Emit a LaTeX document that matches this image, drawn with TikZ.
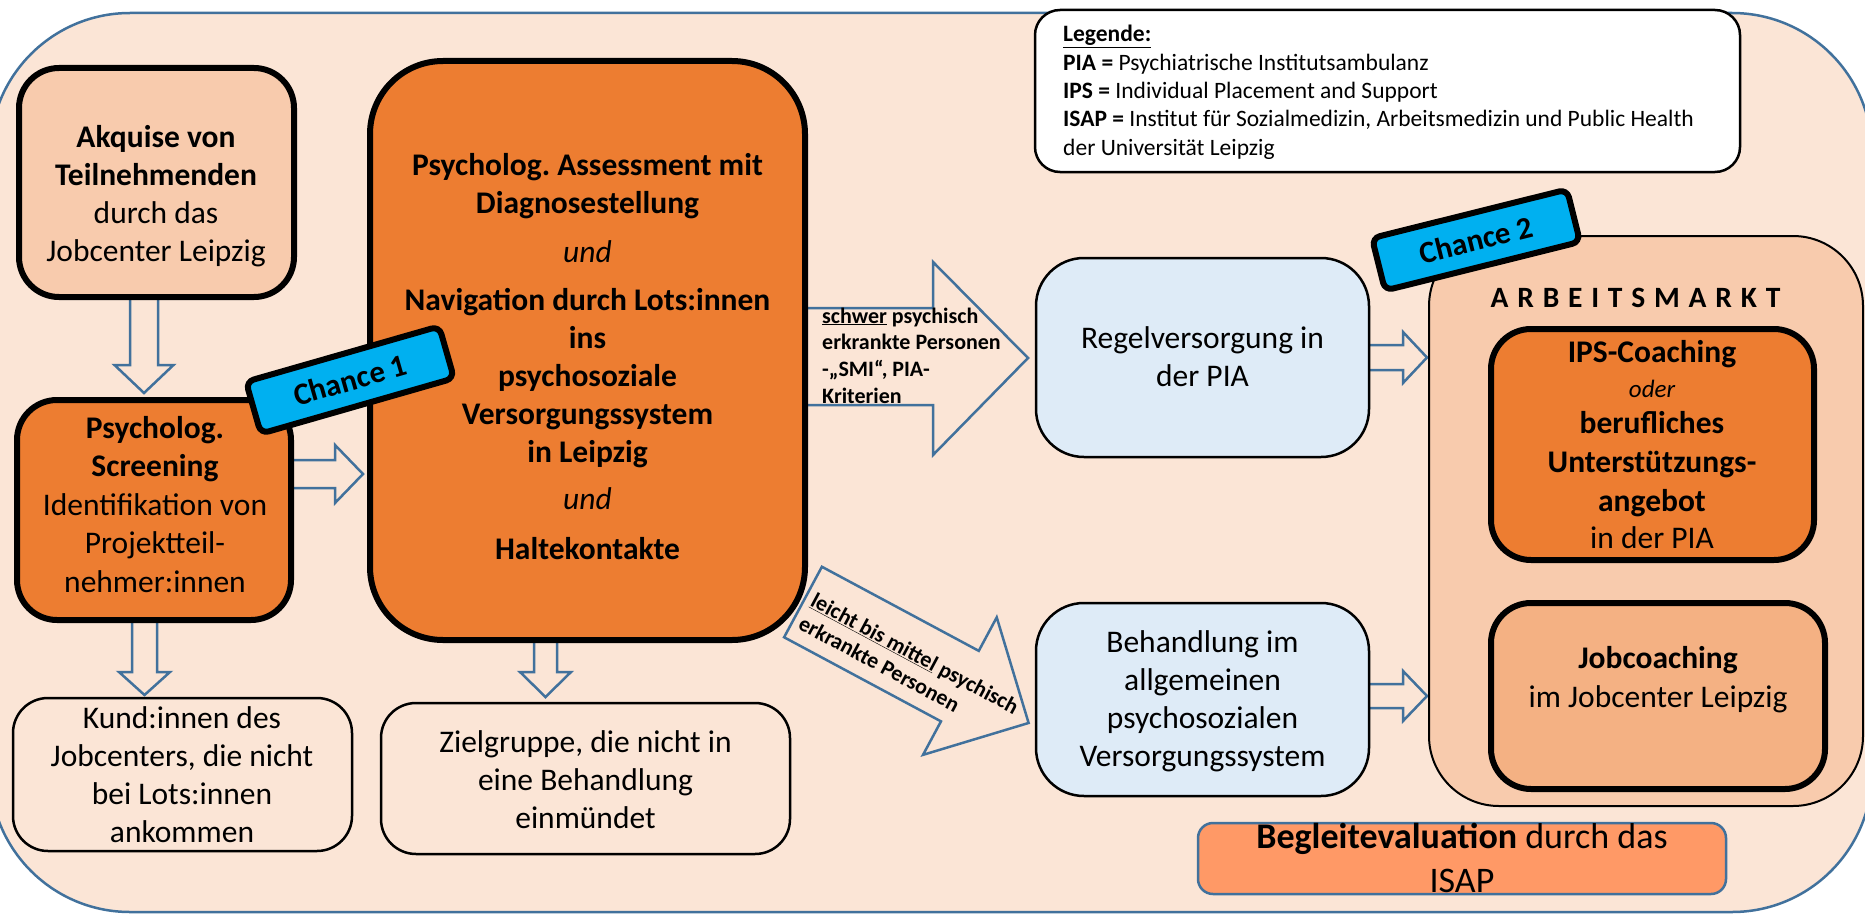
\documentclass[tikz,border=0pt]{standalone}
\usepackage{fontspec}
\setmainfont{Carlito}
\frenchspacing
\definecolor{bgc}{HTML}{FBE5D6}
\definecolor{arrc}{HTML}{41719C}
\definecolor{peach}{HTML}{F8CBAD}
\definecolor{orng}{HTML}{ED7D31}
\definecolor{lblue}{HTML}{DEEBF7}
\definecolor{cyanc}{HTML}{00B0F0}
\definecolor{jobc}{HTML}{F4B183}
\definecolor{begc}{HTML}{FF9966}
\newcommand\ctab[1]{\begin{tabular}[t]{@{}c@{}}#1\end{tabular}}
\newcommand\ltab[1]{\begin{tabular}[t]{@{}l@{}}#1\end{tabular}}
\newcommand\fsz[2]{\fontsize{#1}{#2}\selectfont}
% cx, y0, ybase, ytip, shaft half width, head half width
\newcommand\vblockarrow[6]{\filldraw[barrow] ({#1-#5},#2) -- ({#1-#5},#3) -- ({#1-#6},#3) -- (#1,#4) -- ({#1+#6},#3) -- ({#1+#5},#3) -- ({#1+#5},#2);}
% cy, x0, xbase, xtip, shaft half width, head half width
\newcommand\hblockarrow[6]{\filldraw[barrow] (#2,{#1-#5}) -- (#3,{#1-#5}) -- (#3,{#1-#6}) -- (#4,#1) -- (#3,{#1+#6}) -- (#3,{#1+#5}) -- (#2,{#1+#5});}
\begin{document}
\begin{tikzpicture}[x=1pt,y=-1pt,
  thickbox/.style={draw=black, line width=6pt, rectangle, inner sep=0pt},
  thinbox/.style={draw=black, line width=2.5pt, rectangle, inner sep=0pt},
  barrow/.style={draw=arrc, fill=bgc, line width=2.5pt, line join=miter},
  txt/.style={inner sep=0pt, anchor=base},
  tag/.style={draw=black, line width=6pt, fill=cyanc, rounded corners=8pt,
    minimum width=201pt, minimum height=54pt, inner sep=0pt,
    font=\fsz{31}{38}\bfseries},
  big/.style={font=\fsz{31.5}{38.3}}
]
\useasboundingbox (0,0) rectangle (1865,915);
% background frame
\draw[draw=arrc, fill=bgc, line width=2.5pt, rounded corners=140pt] (-10,13) rectangle (1872,912);

% block arrows
\vblockarrow{144}{285}{365}{393}{14}{29.5}
\vblockarrow{144.5}{610}{672}{695}{12.5}{25.5}
\vblockarrow{545.5}{630}{672}{697}{11.5}{25.5}
\hblockarrow{474}{285}{335}{363}{14}{29}
\hblockarrow{357.5}{1360}{1403}{1427}{12.5}{25.5}
\hblockarrow{696}{1360}{1403}{1427}{12}{25}
% big arrow: schwer
\filldraw[barrow] (790,308) -- (933,308) -- (933,262) -- (1028,358) -- (933,455) -- (933,405) -- (790,405);
\node[txt, anchor=base west, font=\fsz{22}{26.7}\bfseries] (schwerT) at (822,323)
  {\ltab{\underline{schwer} psychisch\\erkrankte Personen\\-„SMI“, PIA-\\Kriterien}};
% big arrow: leicht
\begin{scope}[shift={(803,602)}, rotate=-28.2]
  \filldraw[barrow] (0,-40) -- (178,-40) -- (178,-78) -- (256,0) -- (178,78) -- (178,40) -- (0,40) -- cycle;
  \node[txt, anchor=base west, transform shape, font=\fsz{22}{26}\bfseries] (leichtT) at (7,0)
    {\ltab{\underline{leicht bis mittel} psychisch\\erkrankte Personen}};
\end{scope}

% left column
\node[thickbox, fill=peach, rounded corners=40pt, minimum width=275pt, minimum height=229pt] (akq) at (156.5,182.5) {};
\node[txt, big] (akqT) at (156,147) {\ctab{\textbf{Akquise von}\\\textbf{Teilnehmenden}\\durch das\\Jobcenter Leipzig}};

\node[thickbox, fill=orng, rounded corners=40pt, minimum width=274pt, minimum height=220pt] (scr) at (154,510) {};
\node[txt, font=\fsz{31.5}{38.5}] (scrT) at (155,438) {\ctab{\textbf{Psycholog.}\\\textbf{Screening}\\Identifikation von\\Projektteil-\\nehmer:innen}};

\node[thinbox, fill=bgc, rounded corners=35pt, minimum width=339pt, minimum height=153pt] (kund) at (182.5,774.5) {};
\node[txt, big] (kundT) at (182,728) {\ctab{Kund:innen des\\Jobcenters, die nicht\\bei Lots:innen\\ankommen}};

% assessment
\node[thickbox, fill=orng, rounded corners=73pt, minimum width=435pt, minimum height=579pt] (ass) at (587.5,350.5) {};
\node[txt, font=\fsz{31.5}{38}] (assT) at (587.5,175) {\ctab{\textbf{Psycholog. Assessment mit}\\\textbf{Diagnosestellung}\\[11pt]\textit{und}\\[10pt]\textbf{Navigation durch Lots:innen}\\\textbf{ins}\\\textbf{psychosoziale}\\\textbf{Versorgungssystem}\\\textbf{in Leipzig}\\[9pt]\textit{und}\\[12pt]\textbf{Haltekontakte}}};

\node[thinbox, fill=bgc, rounded corners=35pt, minimum width=409pt, minimum height=151pt] (ziel) at (585.5,778.5) {};
\node[txt, big] (zielT) at (585.5,752) {\ctab{Zielgruppe, die nicht in\\eine Behandlung\\einmündet}};

% middle column
\node[thinbox, fill=lblue, rounded corners=48pt, minimum width=333pt, minimum height=199pt] (regel) at (1202.5,357.5) {};
\node[txt, big] (regelT) at (1202.5,348) {\ctab{Regelversorgung in\\der PIA}};

\node[thinbox, fill=lblue, rounded corners=48pt, minimum width=333pt, minimum height=193pt] (beh) at (1202.5,699.5) {};
\node[txt, big] (behT) at (1202.5,652) {\ctab{Behandlung im\\allgemeinen\\psychosozialen\\Versorgungssystem}};

% legend
\node[thinbox, fill=white, rounded corners=25pt, minimum width=705pt, minimum height=162pt] (leg) at (1387.5,91) {};
\node[txt, anchor=base west, font=\fsz{23.5}{28.3}] (legT) at (1063,42) {\ltab{\textbf{\underline{Legende:}}\\\textbf{PIA =} Psychiatrische Institutsambulanz\\\textbf{IPS =} Individual Placement and Support\\\textbf{ISAP =} Institut für Sozialmedizin, Arbeitsmedizin und Public Health\\der Universität Leipzig}};

% Arbeitsmarkt
\node[thinbox, line width=2pt, fill=peach, rounded corners=70pt, minimum width=434pt, minimum height=570pt] (arb) at (1646,521) {};
\node[txt, font=\fsz{29.5}{36}\bfseries] (arbT) at (1635.5,307) {A\kern8.8pt R\kern8.8pt B\kern8.8pt E\kern8.8pt I\kern8.8pt T\kern8.8pt S\kern8.8pt M\kern8.8pt A\kern8.8pt R\kern8.8pt K\kern8.8pt T};

\node[thickbox, fill=orng, rounded corners=40pt, minimum width=323pt, minimum height=231pt] (ips) at (1652.5,444.5) {};
\node[txt, big] (ipsT) at (1652,362) {\ctab{\textbf{IPS-Coaching}\\[-3pt]{\fsz{25}{30}\itshape oder}\\[-2pt]\textbf{berufliches}\\[1pt]\textbf{Unterstützungs-}\\\textbf{angebot}\\[-1pt]in der PIA}};

\node[thickbox, fill=jobc, rounded corners=40pt, minimum width=334pt, minimum height=186pt] (job) at (1658,696) {};
\node[txt, font=\fsz{31.5}{39}] (jobT) at (1658,668) {\ctab{\textbf{Jobcoaching}\\im Jobcenter Leipzig}};

% Begleitevaluation
\node[draw=arrc, line width=2.5pt, fill=begc, rounded corners=15pt, minimum width=528pt, minimum height=71pt, inner sep=0pt] (beg) at (1462,858.5) {};
\node[txt, font=\fsz{36}{44}] (begT) at (1462,848) {\ctab{\textbf{Begleitevaluation} durch das\\ISAP}};

% chance tags
\node[tag, rotate=16] (ch1) at (350,380) {Chance 1};
\node[tag, rotate=14] (ch2) at (1476,240) {Chance 2};
\end{tikzpicture}
\end{document}
